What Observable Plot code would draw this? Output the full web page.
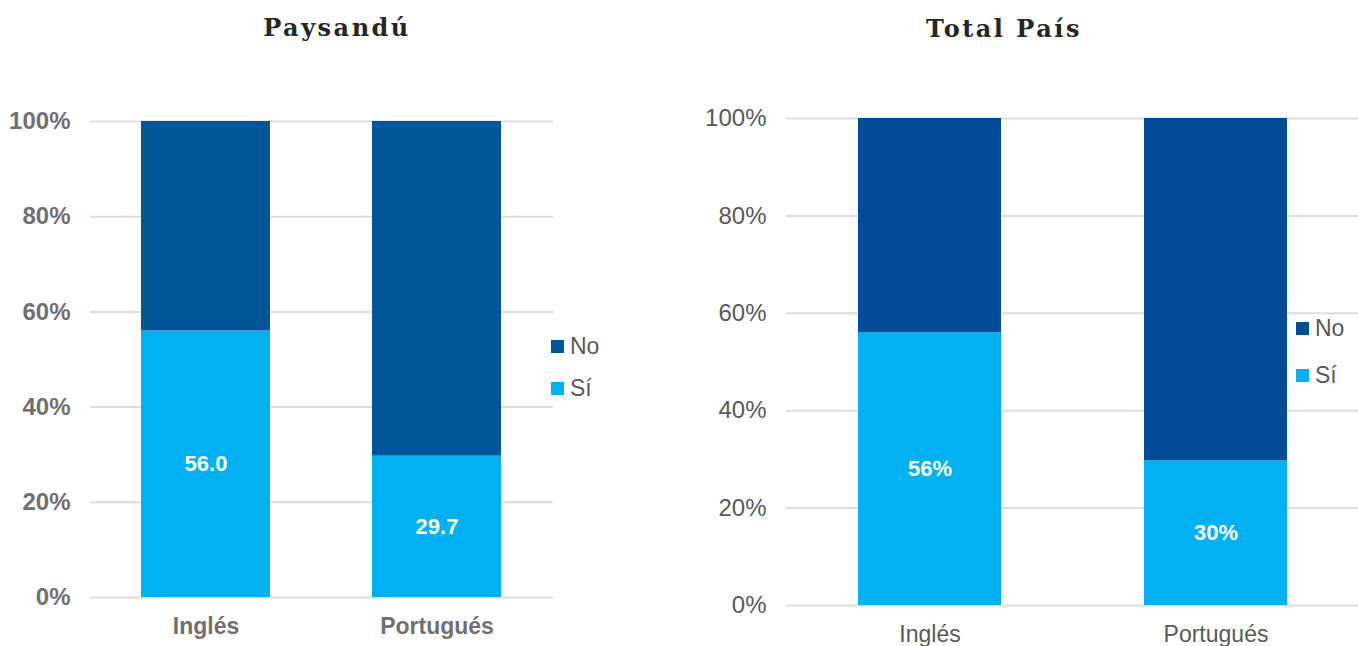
<!DOCTYPE html>
<html>
<head>
<meta charset="utf-8">
<script src="https://cdn.jsdelivr.net/npm/d3@7"></script>
<script src="https://cdn.jsdelivr.net/npm/@observablehq/plot@0.6"></script>
<style>
  html, body { margin: 0; padding: 0; background: #fff; }
  #wrap { position: relative; width: 1358px; height: 646px; overflow: hidden; font-family: "Liberation Sans", Arial, sans-serif; }
  .panel { position: absolute; top: 0; }
  .title { position: absolute; font-family: "DejaVu Serif", "Liberation Serif", serif; font-weight: bold; font-size: 24px; letter-spacing: 2.5px; color: #262626; transform: translate(-50%, -50%); white-space: nowrap; }
  .leg { position: absolute; font-size: 23px; color: #595959; display: flex; align-items: center; white-space: nowrap; }
  .leg span.sw { display: inline-block; width: 13px; height: 13px; margin-right: 6px; }
</style>
</head>
<body>
<div id="wrap"></div>
<script>
// ---- data ----
const languages = ["Inglés", "Portugués"];
const responses = ["No", "Sí"];
const siPaysandu = [56.0, 29.7];
const noPaysandu = [44.0, 70.3];
const siTotal = [56.0, 29.7];
const noTotal = [44.0, 70.3];
const yTicks = [0, 20, 40, 60, 80, 100];
const titles = ["Paysandú", "Total País"];

const lightBlue = "#00b0f0";

function rowsFrom(si, no) {
  const rows = [];
  languages.forEach((l, i) => rows.push({lang: l, resp: "Sí", value: si[i]}));
  languages.forEach((l, i) => rows.push({lang: l, resp: "No", value: no[i]}));
  return rows;
}

function makeChart(opts) {
  const rows = rowsFrom(opts.si, opts.no);
  return Plot.plot({
    width: opts.width,
    height: 646,
    marginLeft: opts.marginLeft,
    marginRight: opts.marginRight,
    marginTop: opts.marginTop,
    marginBottom: opts.marginBottom,
    style: {fontFamily: '"Liberation Sans", Arial, sans-serif', fontSize: "23px", background: "transparent"},
    x: {domain: languages, paddingInner: opts.padInner, paddingOuter: opts.padInner / 2, label: null},
    y: {domain: [0, 100], label: null},
    color: {domain: responses, range: [opts.darkBlue, lightBlue]},
    marks: [
      Plot.ruleY(yTicks, {stroke: "#dcdcdc", strokeWidth: 2}),
      Plot.barY(rows, Plot.stackY({x: "lang", y: "value", fill: "resp", z: "resp"})),
      Plot.text(rows, Plot.stackY({
        x: "lang", y: "value", z: "resp",
        text: d => d.resp === "Sí" ? opts.fmt(d.value) : null,
        fill: "white", fontWeight: "bold", fontSize: 22
      })),
      Plot.axisY({ticks: yTicks, tickFormat: d => d + "%", tickSize: 0, tickPadding: 20, fontSize: 24,
        fontWeight: opts.bold ? "bold" : "normal", color: opts.tickColor, label: null}),
      Plot.axisX({tickSize: 0, tickPadding: opts.xPad, fontWeight: opts.bold ? "bold" : "normal",
        color: opts.tickColor, label: null})
    ]
  });
}

const wrap = document.getElementById("wrap");

function addPanel(left, chart) {
  const d = document.createElement("div");
  d.className = "panel";
  d.style.left = left + "px";
  d.appendChild(chart);
  wrap.appendChild(d);
}

addPanel(0, makeChart({
  width: 680, marginLeft: 90, marginRight: 127, marginTop: 121, marginBottom: 49,
  si: siPaysandu, no: noPaysandu, padInner: 0.44, darkBlue: "#005596",
  fmt: v => v.toFixed(1), bold: true, tickColor: "#707070", xPad: 20
}));

addPanel(680, makeChart({
  width: 678, marginLeft: 106, marginRight: 0, marginTop: 118, marginBottom: 41,
  si: siTotal, no: noTotal, padInner: 0.5, darkBlue: "#004c97",
  fmt: v => Math.round(v) + "%", bold: false, tickColor: "#595959", xPad: 20
}));

function addTitle(text, x, y) {
  const t = document.createElement("div");
  t.className = "title";
  t.textContent = text;
  t.style.left = x + "px";
  t.style.top = y + "px";
  wrap.appendChild(t);
}
addTitle(titles[0], 337, 27);
addTitle(titles[1], 1004, 28);

function addLegend(x, yNo, ySi, darkBlue) {
  [["No", darkBlue, yNo], ["Sí", lightBlue, ySi]].forEach(([lab, col, y]) => {
    const l = document.createElement("div");
    l.className = "leg";
    l.style.left = x + "px";
    l.style.top = (y - 13) + "px";
    l.style.height = "26px";
    const sw = document.createElement("span");
    sw.className = "sw";
    sw.style.background = col;
    l.appendChild(sw);
    l.appendChild(document.createTextNode(lab));
    wrap.appendChild(l);
  });
}
addLegend(551, 346, 388, "#005596");
addLegend(1296, 328, 375, "#004c97");
</script>
</body>
</html>
